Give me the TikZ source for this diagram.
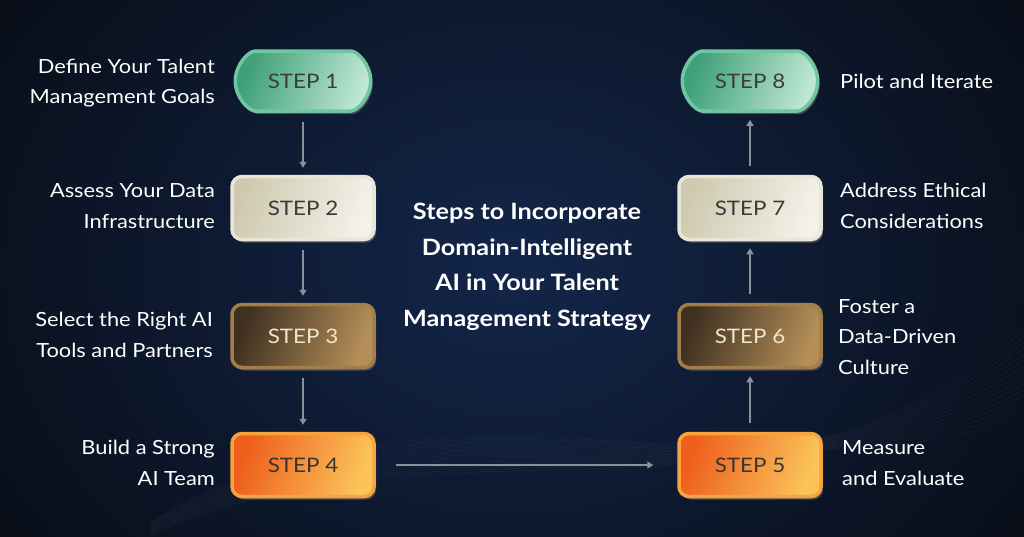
\documentclass[tikz,border=0pt]{standalone}
\usepackage{fontspec}
\setmainfont{Lato}[FakeStretch=1.12]
\usetikzlibrary{shapes.misc,shadows,arrows.meta}
\definecolor{bgA}{HTML}{13264A}
\definecolor{bgB}{HTML}{080C14}
\definecolor{arr}{HTML}{8C9099}
\definecolor{gD}{HTML}{6FC6A0}\definecolor{gL}{HTML}{3E9F78}\definecolor{gR}{HTML}{BDE6D3}\definecolor{gT}{HTML}{3A3D3D}
\definecolor{cD}{HTML}{E8E6D8}\definecolor{cL}{HTML}{CFCAAF}\definecolor{cR}{HTML}{F3F1EA}\definecolor{cT}{HTML}{3A3A3A}
\definecolor{bD}{HTML}{A37E48}\definecolor{bL}{HTML}{3F3020}\definecolor{bR}{HTML}{B48F58}\definecolor{bT}{HTML}{EEE6CC}
\definecolor{oD}{HTML}{F7A43E}\definecolor{oL}{HTML}{EE5E1C}\definecolor{oR}{HTML}{FBC45A}\definecolor{oT}{HTML}{3A3530}
\begin{document}
\begin{tikzpicture}[x=1pt,y=-1pt,
  box/.style={minimum width=142pt,minimum height=63pt,rounded corners=10pt,line width=3.5pt,
    font=\fontsize{20}{20}\selectfont,drop shadow={opacity=0.5,shadow xshift=2pt,shadow yshift=-3pt}},
  pill/.style={box,rounded rectangle,minimum height=60pt},
  greenbox/.style={draw=gD,left color=gL,right color=gR,shading angle=70,text=gT},
  creambox/.style={draw=cD,left color=cL,right color=cR,shading angle=70,text=cT},
  brownbox/.style={draw=bD,left color=bL,right color=bR,shading angle=70,text=bT},
  orangebox/.style={draw=oD,left color=oL,right color=oR,shading angle=70,text=oT},
  lab/.style={text=white,font=\fontsize{19.5}{30.5}\selectfont,inner sep=0pt},
  conn/.style={draw=arr,line width=1.6pt,-{Triangle[length=6pt,width=7pt]}},
  ttl/.style={text=white,font=\bfseries\fontsize{22.5}{35.5}\selectfont,align=center}
]
\useasboundingbox (0,0) rectangle (1024,536);
\shade[inner color=bgA,outer color=bgB] (-150,-250) rectangle (1174,786);
% faint waves at bottom
\foreach \k in {0,...,14}{
  \draw[white,opacity=0.05,line width=0.5pt]
    (150,536-\k*1) .. controls (450,400-\k*4) and (760,560-\k*3) .. (1024,330+\k*6);
}
\node[pill,greenbox] (s1) at (303,81) {STEP 1};
\node[box,creambox] (s2) at (303,208) {STEP 2};
\node[box,brownbox] (s3) at (303,336) {STEP 3};
\node[box,orangebox] (s4) at (303,465) {STEP 4};
\node[box,orangebox] (s5) at (750,465) {STEP 5};
\node[box,brownbox] (s6) at (750,336) {STEP 6};
\node[box,creambox] (s7) at (750,208) {STEP 7};
\node[pill,greenbox] (s8) at (750,81) {STEP 8};

\draw[conn] ([yshift=-9pt]s1.south) -- ([yshift=7pt]s2.north);
\draw[conn] ([yshift=-9pt]s2.south) -- ([yshift=7pt]s3.north);
\draw[conn] ([yshift=-9pt]s3.south) -- ([yshift=7pt]s4.north);
\draw[conn] ([xshift=20pt]s4.east) -- ([xshift=-24pt]s5.west);
\draw[conn] ([yshift=9pt]s5.north) -- ([yshift=-7pt]s6.south);
\draw[conn] ([yshift=9pt]s6.north) -- ([yshift=-7pt]s7.south);
\draw[conn] ([yshift=9pt]s7.north) -- ([yshift=-7pt]s8.south);

\node[lab,align=right,anchor=east] (l1) at (215,83) {Define Your Talent\\Management Goals};
\node[lab,align=right,anchor=east] (l2) at (215,206) {Assess Your Data\\Infrastructure};
\node[lab,align=right,anchor=east] (l3) at (213,335) {Select the Right AI\\Tools and Partners};
\node[lab,align=right,anchor=east] (l4) at (215,463) {Build a Strong\\AI Team};
\node[lab,align=left,anchor=west] (l5) at (842,463) {Measure\\and Evaluate};
\node[lab,align=left,anchor=west] (l6) at (838,337) {Foster a\\Data-Driven\\Culture};
\node[lab,align=left,anchor=west] (l7) at (840,206) {Address Ethical\\Considerations};
\node[lab,align=left,anchor=west] (l8) at (840,81) {Pilot and Iterate};

\node[ttl] (title) at (527,267) {Steps to Incorporate\\Domain-Intelligent\\AI in Your Talent\\Management Strategy};
\end{tikzpicture}
\end{document}
